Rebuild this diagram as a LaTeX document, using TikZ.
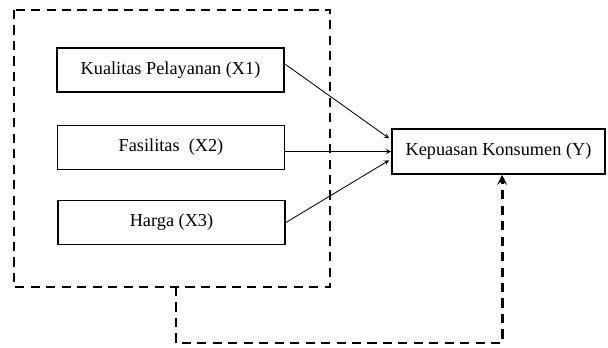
\documentclass[tikz,border=0pt]{standalone}
\usepackage{fontspec}
\setmainfont{Liberation Serif}
\usetikzlibrary{arrows, positioning, calc}
\tikzset{
  var/.style={draw, line width=1.3pt, minimum width=5.675cm, minimum height=1.1cm, inner sep=2pt, font=\fontsize{13}{15}\selectfont},
  tra/.style={->, >=stealth, line width=0.6pt},
  grp/.style={draw, line width=2pt, dash pattern=on 6.5pt off 4.5pt},
  fbk/.style={grp, ->, >=stealth}
}
\begin{document}
\begin{tikzpicture}
		\useasboundingbox (0,0) rectangle (15.2,-8.675);
		\node[var] (x1) at (4.2625,-1.75) {Kualitas Pelayanan (X1)};
		\node[var] (x2) at (4.275,-3.6875) {Fasilitas\ \ (X2)};
		\node[var] (x3) at (4.2875,-5.5625) {Harga (X3)};
		\node[var, minimum width=5.325cm, minimum height=1.125cm] (y) at (12.4625,-3.7875) {Kepuasan Konsumen (Y)};
		\draw[grp] (0.35,-0.25) rectangle (8.25,-7.175);
		\coordinate (gb) at (4.4,-7.175);
		\coordinate (fb) at ($(y.south)+(0.09,0)$);
		\coordinate (x1e) at ($(x1.east)+(0,0.15)$);
		\coordinate (x2e) at ($(x2.east)+(0,-0.1)$);
		\draw[tra] (x1e) -- ($(y.west)+(-0.05,0.33)$);
		\draw[tra] (x2e) -- (x2e -| y.west);
		\draw[tra] (x3.east) -- ($(y.west)+(-0.05,-0.22)$);
		\draw[fbk] (gb) -- (gb |- 0,-8.575) -- (fb |- 0,-8.575) -- (fb);
	\end{tikzpicture}
\end{document}
